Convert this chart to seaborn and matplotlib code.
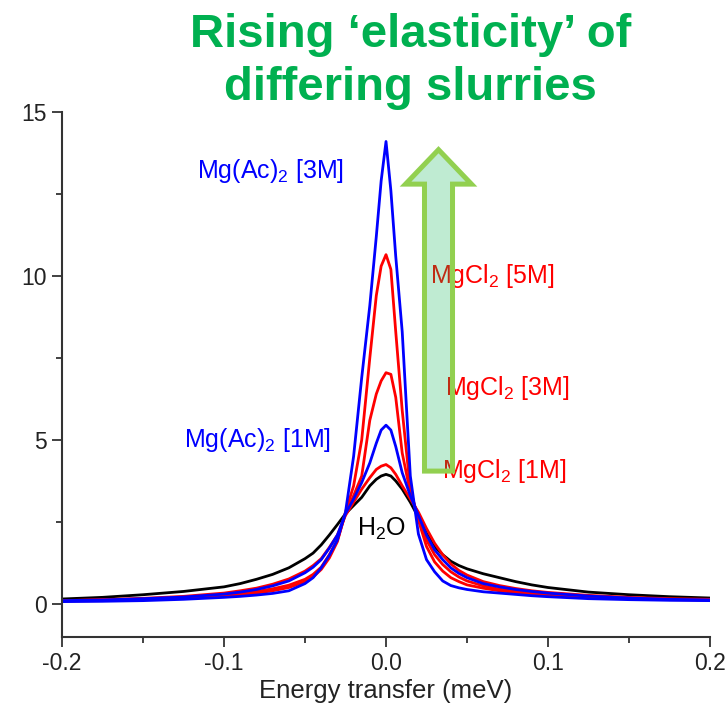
import numpy as np
import pandas as pd
import matplotlib
matplotlib.use('Agg')
import matplotlib.pyplot as plt
from matplotlib.patches import FancyArrow
import seaborn as sns

# Energy transfer grid (meV) and intensities
energy = [-0.2, -0.175, -0.15, -0.125, -0.1, -0.09, -0.08, -0.07, -0.06, -0.05, -0.045,
          -0.04, -0.035, -0.03, -0.025, -0.02, -0.015, -0.01, -0.006, -0.003, 0.0,
          0.003, 0.006, 0.01, 0.015, 0.02, 0.025, 0.03, 0.035, 0.04, 0.045, 0.05,
          0.06, 0.07, 0.08, 0.09, 0.1, 0.125, 0.15, 0.175, 0.2]

h2o = [0.15, 0.2, 0.28, 0.38, 0.52, 0.62, 0.75, 0.9, 1.1, 1.38, 1.55,
       1.8, 2.1, 2.42, 2.75, 3.0, 3.25, 3.6, 3.8, 3.9, 3.95,
       3.9, 3.75, 3.5, 3.1, 2.64, 2.15, 1.75, 1.5, 1.3, 1.17, 1.07,
       0.92, 0.8, 0.68, 0.58, 0.5, 0.36, 0.28, 0.22, 0.18]
mgcl2_1m = [0.1, 0.13, 0.17, 0.23, 0.33, 0.4, 0.48, 0.6, 0.76, 1.0, 1.17,
            1.38, 1.72, 2.1, 2.7, 3.1, 3.5, 3.85, 4.1, 4.2, 4.25,
            4.15, 3.95, 3.6, 3.2, 2.8, 2.3, 1.85, 1.5, 1.22, 1.02, 0.88,
            0.68, 0.56, 0.47, 0.4, 0.35, 0.26, 0.2, 0.16, 0.14]
mgcl2_3m = [0.1, 0.12, 0.15, 0.2, 0.28, 0.32, 0.38, 0.46, 0.57, 0.75, 0.9,
            1.12, 1.5, 1.95, 2.75, 3.3, 3.9, 5.6, 6.4, 6.8, 7.05,
            7.0, 6.3, 4.6, 3.4, 2.65, 1.95, 1.5, 1.2, 0.98, 0.82, 0.7,
            0.55, 0.45, 0.39, 0.34, 0.3, 0.22, 0.17, 0.14, 0.13]
mgcl2_5m = [0.09, 0.1, 0.13, 0.17, 0.24, 0.28, 0.33, 0.4, 0.5, 0.68, 0.82,
            1.05, 1.4, 1.9, 2.8, 3.6, 5.0, 7.5, 9.4, 10.3, 10.65,
            10.2, 8.3, 5.9, 3.5, 2.55, 1.75, 1.28, 1.0, 0.8, 0.68, 0.58,
            0.48, 0.4, 0.35, 0.3, 0.27, 0.2, 0.16, 0.13, 0.12]
mgac_1m = [0.1, 0.12, 0.16, 0.21, 0.3, 0.36, 0.44, 0.55, 0.7, 0.95, 1.12,
           1.35, 1.7, 2.1, 2.75, 3.2, 3.7, 4.3, 4.9, 5.3, 5.45,
           5.3, 4.8, 4.0, 3.3, 2.7, 2.1, 1.65, 1.35, 1.1, 0.93, 0.8,
           0.62, 0.52, 0.44, 0.38, 0.33, 0.24, 0.18, 0.14, 0.12]
mgac_3m = [0.07, 0.08, 0.1, 0.14, 0.2, 0.23, 0.27, 0.32, 0.4, 0.62, 0.8,
           1.1, 1.48, 1.95, 2.8, 4.5, 6.9, 9.1, 11.2, 12.9, 14.1,
           12.6, 10.6, 8.3, 3.9, 2.13, 1.35, 0.98, 0.7, 0.56, 0.49, 0.44,
           0.37, 0.33, 0.29, 0.25, 0.22, 0.16, 0.13, 0.11, 0.1]

samples = ['H2O', 'MgCl2 1M', 'MgCl2 3M', 'MgCl2 5M', 'MgAc2 1M', 'MgAc2 3M']
colors = ['black', '#FF0000', '#FF0000', '#FF0000', '#0000FF', '#0000FF']

df = pd.concat([
    pd.DataFrame({'energy': energy, 'intensity': vals, 'sample': name})
    for name, vals in zip(samples, [h2o, mgcl2_1m, mgcl2_3m, mgcl2_5m, mgac_1m, mgac_3m])
])

sns.set_style('ticks')
plt.rcParams['font.family'] = ['Liberation Sans', 'DejaVu Sans']
plt.rcParams['mathtext.fontset'] = 'custom'
plt.rcParams['mathtext.rm'] = 'Liberation Sans'
plt.rcParams['mathtext.default'] = 'regular'

fig = plt.figure(figsize=(7.26, 7.15), dpi=100)
ax = fig.add_axes([0.0854, 0.1095, 0.8926, 0.7339])

sns.lineplot(data=df, x='energy', y='intensity', hue='sample', hue_order=samples,
             palette=dict(zip(samples, colors)), linewidth=2.0, legend=False,
             sort=False, estimator=None, ax=ax)

ax.set_xlim(-0.2, 0.2)
ax.set_ylim(-1, 15)
ax.set_xticks([-0.2, -0.1, 0.0, 0.1, 0.2])
ax.set_xticklabels(['-0.2', '-0.1', '0.0', '0.1', '0.2'])
ax.set_xticks([-0.15, -0.05, 0.05, 0.15], minor=True)
ax.set_yticks([0, 5, 10, 15])
ax.set_yticks([2.5, 7.5, 12.5], minor=True)
ax.tick_params(which='major', direction='out', length=7, width=1.3, colors='#333333',
               labelsize=16.5, labelcolor='#222222', pad=4)
ax.tick_params(which='minor', direction='out', length=4, width=1.3, colors='#333333')
for side in ['left', 'bottom']:
    ax.spines[side].set_linewidth(1.5)
    ax.spines[side].set_color('#333333')
sns.despine(ax=ax)
ax.set_xlabel('Energy transfer (meV)', fontsize=18.5, color='#222222', labelpad=3)
ax.set_ylabel('')

# Sample labels
ax.text(-0.1167, 13.0, 'Mg(Ac)$_2$ [3M]', color='#0000FF', fontsize=18)
ax.text(-0.125, 4.77, 'Mg(Ac)$_2$ [1M]', color='#0000FF', fontsize=18)
ax.text(0.0272, 9.78, 'MgCl$_2$ [5M]', color='#FF0000', fontsize=18)
ax.text(0.0364, 6.36, 'MgCl$_2$ [3M]', color='#FF0000', fontsize=18)
ax.text(0.0346, 3.85, 'MgCl$_2$ [1M]', color='#FF0000', fontsize=18)
ax.text(-0.0179, 2.08, 'H$_2$O', color='black', fontsize=18)

# Big translucent arrow
arrow = FancyArrow(0.0324, 4.05, 0, 9.8, width=0.0173, head_width=0.0407,
                   head_length=1.05, length_includes_head=True,
                   facecolor=(0.0, 0.69, 0.31, 0.25), edgecolor='#92D050',
                   linewidth=3.6, zorder=5)
ax.add_patch(arrow)

fig.text(0.565, 0.934, 'Rising \u2018elasticity\u2019 of', ha='center', va='baseline',
         fontsize=34, fontweight='bold', color='#00B050')
fig.text(0.565, 0.86, 'differing slurries', ha='center', va='baseline',
         fontsize=34, fontweight='bold', color='#00B050')

fig.savefig('out.png', dpi=100)
